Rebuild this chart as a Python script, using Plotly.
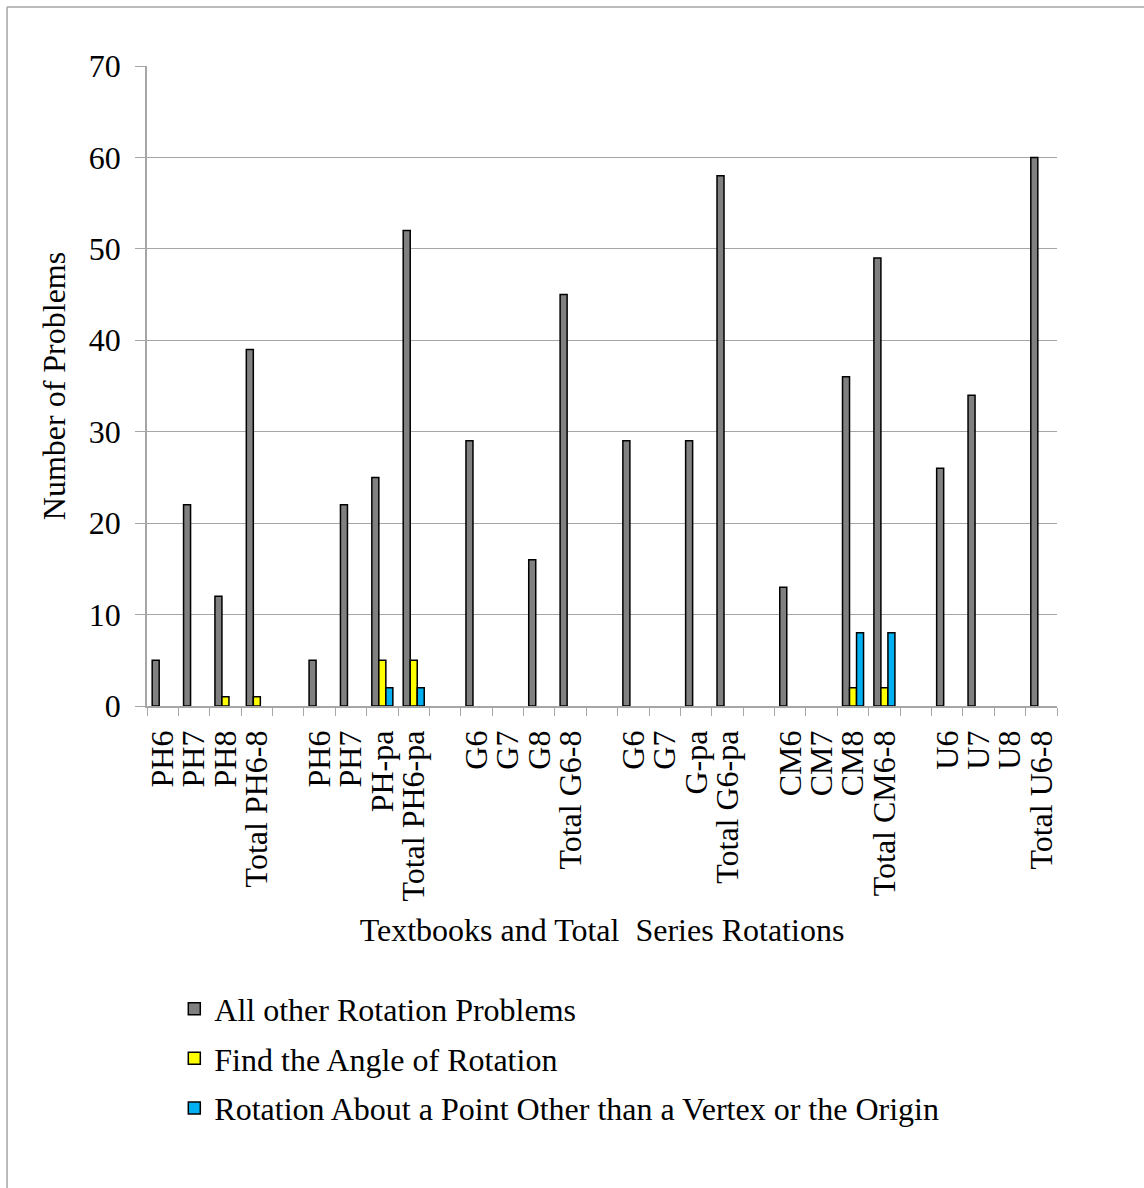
import plotly.graph_objects as go

# Category slots along the x axis; empty strings are spacer slots between series
categories = [
    "PH6", "PH7", "PH8", "Total PH6-8", "",
    "PH6", "PH7", "PH-pa", "Total PH6-pa", "",
    "G6", "G7", "G8", "Total G6-8", "",
    "G6", "G7", "G-pa", "Total G6-pa", "",
    "CM6", "CM7", "CM8", "Total CM6-8", "",
    "U6", "U7", "U8", "Total U6-8",
]

all_other = [5, 22, 12, 39, None,
             5, 22, 25, 52, None,
             29, 0, 16, 45, None,
             29, 0, 29, 58, None,
             13, 0, 36, 49, None,
             26, 34, 0, 60]
find_angle = [0, 0, 1, 1, None,
              0, 0, 5, 5, None,
              0, 0, 0, 0, None,
              0, 0, 0, 0, None,
              0, 0, 2, 2, None,
              0, 0, 0, 0]
other_point = [0, 0, 0, 0, None,
               0, 0, 2, 2, None,
               0, 0, 0, 0, None,
               0, 0, 0, 0, None,
               0, 0, 8, 8, None,
               0, 0, 0, 0]

series_names = [
    "All other Rotation Problems",
    "Find the Angle of Rotation",
    "Rotation About a Point Other than a Vertex or the Origin",
]
series_values = [all_other, find_angle, other_point]
series_colors = ["#808080", "#ffff00", "#00b0f0"]

# unique keys so repeated labels stay separate slots
slot_keys = [f"s{i}" for i in range(len(categories))]

FONT = "Liberation Serif, Times New Roman, serif"
GRID = "#a6a6a6"
FS = 32

fig = go.Figure()
for i, (name, vals, color) in enumerate(zip(series_names, series_values, series_colors)):
    shown = [v if v else None for v in vals]
    fig.add_trace(go.Bar(
        x=slot_keys, y=shown, name=name,
        marker=dict(color=color, line=dict(color="black", width=1.5)),
        legendgroup=f"g{i}",
    ))

fig.update_layout(
    width=1144, height=1188,
    margin=dict(l=147, r=87, t=66, b=482, autoexpand=False),
    paper_bgcolor="white", plot_bgcolor="white",
    barmode="group", bargap=0.33, bargroupgap=0,
    font=dict(family=FONT, color="black", size=FS),
    showlegend=True,
    legend=dict(
        x=0.03, y=-0.4303, xanchor="left", yanchor="top",
        orientation="v", tracegroupgap=5,
        font=dict(family=FONT, size=FS, color="black"),
        bgcolor="rgba(0,0,0,0)",
    ),
    shapes=[
        dict(type="line", xref="paper", yref="paper", x0=-0.1538, x1=1.0956,
             y0=1.0922, y1=1.0922, line=dict(color=GRID, width=1.5)),
        dict(type="line", xref="paper", yref="paper", x0=-0.1538, x1=-0.1538,
             y0=1.0922, y1=-0.76, line=dict(color=GRID, width=1.5)),
    ],
)

fig.update_xaxes(
    type="category", automargin=False,
    tickmode="array", tickvals=slot_keys, ticktext=categories,
    tickson="boundaries", ticks="outside", ticklen=8, tickcolor=GRID, tickwidth=1,
    tickangle=-90, tickfont=dict(family=FONT, size=FS),
    ticklabelstandoff=10,
    showline=True, linecolor=GRID, linewidth=1.5,
    showgrid=False,
    title=dict(text="Textbooks and Total\u00a0 Series Rotations",
               font=dict(family=FONT, size=FS), standoff=18),
)
fig.update_yaxes(
    range=[0, 70], dtick=10, tick0=0, automargin=False,
    ticks="outside", ticklen=10, tickcolor=GRID, tickwidth=1,
    tickfont=dict(family=FONT, size=FS),
    ticklabelstandoff=8,
    showline=True, linecolor=GRID, linewidth=1.5,
    showgrid=True, gridcolor=GRID, gridwidth=1.2,
    zeroline=False,
    title=dict(text="Number of Problems", font=dict(family=FONT, size=FS), standoff=14),
)

fig.write_html("out.html")
